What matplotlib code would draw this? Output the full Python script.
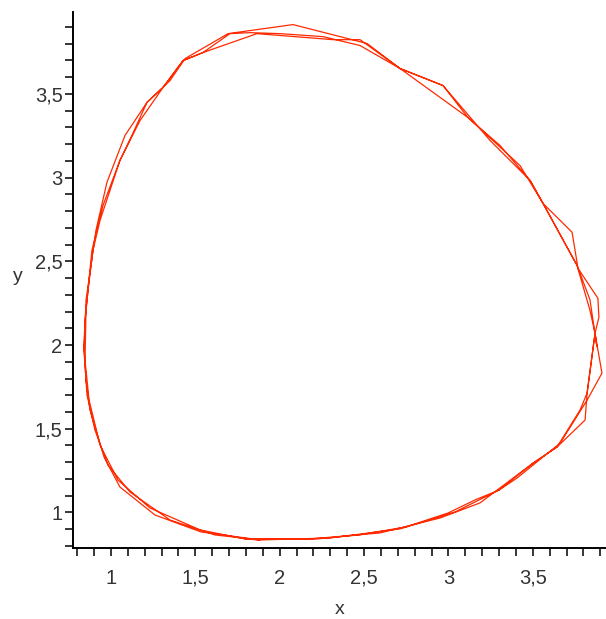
import matplotlib.pyplot as plt
import numpy as np
from matplotlib.ticker import MultipleLocator, FuncFormatter

# orbit traced three times, coarse steps -> slightly different polygons each lap
x_loop1 = [1.842, 2.221, 2.470, 2.749, 2.998, 3.158, 3.300, 3.502, 3.644, 3.780, 3.822,
           3.869, 3.880, 3.839, 3.762, 3.561, 3.484, 3.306, 3.116, 2.968, 2.713, 2.476,
           2.257, 2.002, 1.824, 1.705, 1.545, 1.427, 1.308, 1.213, 1.124, 1.053, 0.994,
           0.935, 0.893, 0.864, 0.846, 0.840, 0.852, 0.876, 0.893, 0.959, 1.053, 1.261,
           1.533, 1.842]
y_loop1 = [0.842, 0.842, 0.866, 0.914, 0.997, 1.075, 1.134, 1.295, 1.391, 1.611, 1.713,
           2.070, 1.990, 2.270, 2.476, 2.845, 2.983, 3.191, 3.358, 3.549, 3.651, 3.788,
           3.841, 3.859, 3.865, 3.859, 3.746, 3.698, 3.537, 3.448, 3.251, 3.102, 2.923,
           2.744, 2.565, 2.326, 2.148, 1.993, 1.790, 1.611, 1.552, 1.331, 1.152, 0.985,
           0.884, 0.842]

x_loop2 = [1.883, 2.298, 2.713, 3.039, 3.300, 3.407, 3.662, 3.822, 3.910, 3.869, 3.892,
           3.886, 3.768, 3.733, 3.561, 3.484, 3.247, 2.968, 2.713, 2.518, 2.079, 1.694,
           1.439, 1.350, 1.213, 1.083, 0.976, 0.911, 0.852, 0.840, 0.858, 0.905, 0.982,
           1.113, 1.350, 1.616, 1.883]
y_loop2 = [0.836, 0.848, 0.902, 1.003, 1.134, 1.206, 1.414, 1.671, 1.832, 2.070, 2.166,
           2.279, 2.458, 2.673, 2.845, 2.983, 3.221, 3.549, 3.651, 3.800, 3.913, 3.859,
           3.710, 3.579, 3.448, 3.251, 2.971, 2.685, 2.267, 1.969, 1.701, 1.492, 1.283,
           1.122, 0.955, 0.866, 0.836]

x_loop3 = [1.794, 2.180, 2.595, 2.950, 3.187, 3.502, 3.644, 3.810, 3.822, 3.869, 3.839,
           3.762, 3.561, 3.424, 3.116, 2.713, 2.476, 2.316, 1.865, 1.545, 1.427, 1.308,
           1.172, 1.053, 0.953, 0.887, 0.852, 0.846, 0.870, 0.935, 1.041, 1.231, 1.528,
           1.794]
y_loop3 = [0.842, 0.842, 0.878, 0.967, 1.057, 1.295, 1.391, 1.552, 1.713, 2.070, 2.207,
           2.476, 2.845, 3.072, 3.358, 3.651, 3.823, 3.823, 3.859, 3.746, 3.698, 3.537,
           3.340, 3.102, 2.834, 2.565, 2.207, 1.909, 1.671, 1.403, 1.194, 1.027, 0.896,
           0.842]

x_all = x_loop1 + x_loop2 + x_loop3
y_all = y_loop1 + y_loop2 + y_loop3

plt.rcParams['font.family'] = ['Liberation Sans', 'DejaVu Sans']

fig = plt.figure(figsize=(6.06, 6.19), dpi=100)
ax = fig.add_axes([0.1205, 0.1147, 0.8795, 0.8664])

ax.plot(x_all, y_all, color='#ff2a00', lw=0.9)

ax.set_xlim(0.775, 3.934)
ax.set_ylim(0.788, 3.99)

for s in ['top', 'right']:
    ax.spines[s].set_visible(False)
for s in ['left', 'bottom']:
    ax.spines[s].set_linewidth(1.4)
    ax.spines[s].set_color('black')

comma = FuncFormatter(lambda v, p: ('%g' % v).replace('.', ','))
for axis in [ax.xaxis, ax.yaxis]:
    axis.set_major_locator(MultipleLocator(0.5))
    axis.set_minor_locator(MultipleLocator(0.1))
    axis.set_major_formatter(comma)

ax.tick_params(which='both', direction='out', length=6, width=1.1, color='black')
ax.tick_params(axis='x', labelsize=14.5, labelcolor='#333333', pad=9)
ax.tick_params(axis='y', labelsize=14.5, labelcolor='#333333', pad=1.5)

ax.set_xlabel('x', fontsize=14, color='#333333', va='bottom')
ax.set_ylabel('y', fontsize=14, color='#333333', rotation=0)
ax.xaxis.set_label_coords(0.5, -0.13)
ax.yaxis.set_label_coords(-0.103, 0.49)

fig.savefig('out.png', dpi=100)
